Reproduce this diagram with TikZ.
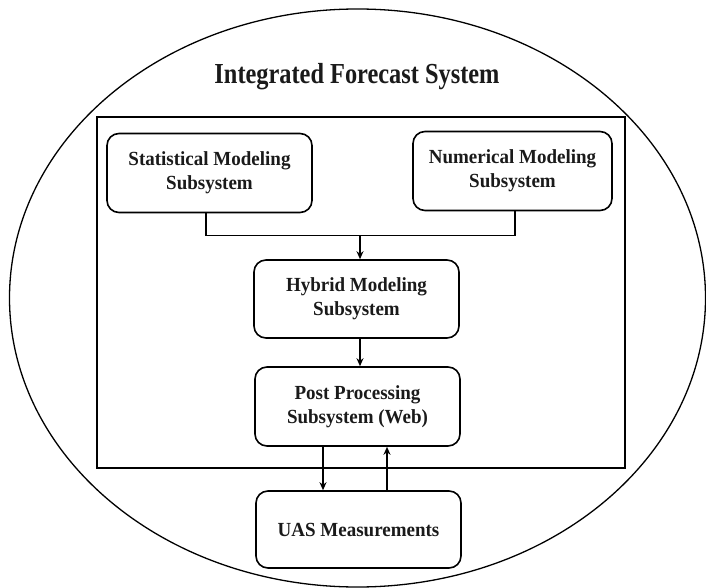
\documentclass[tikz,border=0pt]{standalone}
\usepackage{fontspec}
\setmainfont{Liberation Serif}
\newfontfamily\titlefont[FakeStretch=0.84]{Liberation Serif}
\newfontfamily\boxfont[FakeStretch=0.95]{Liberation Serif}
\usetikzlibrary{arrows.meta}
\definecolor{ink}{HTML}{1A1A1A}
\begin{document}
\begin{tikzpicture}[x=1pt,y=-1pt,
  box/.style={draw, line width=1.6pt, rounded corners=12pt, align=center, inner sep=0pt,
    minimum width=205pt, minimum height=79pt, text=ink, font=\boxfont\fontsize{20}{24}\selectfont\bfseries},
  frame/.style={draw, line width=1.6pt, inner sep=0pt, minimum width=528pt, minimum height=351pt},
  arr/.style={line width=1.5pt, -{Stealth[length=8pt,width=7pt]}},
  conn/.style={line width=1.5pt}]
\useasboundingbox (0,0) rectangle (706,588);
\fill[white] (0,0) rectangle (706,588);
\draw[line width=1.3pt] (357.5,298) ellipse [x radius=348, y radius=289];
\node[anchor=base, text=ink, font=\titlefont\fontsize{29}{32}\selectfont\bfseries] (title) at (357,84) {Integrated Forecast System};
\node[frame] (sys) at (361,292.5) {};
\node[box] (stat) at (209.5,173) {Statistical Modeling\\Subsystem};
\node[box, minimum width=199pt] (num) at (512.5,171) {Numerical Modeling\\Subsystem};
\node[box, minimum height=78pt] (hyb) at (356.5,299) {Hybrid Modeling\\Subsystem};
\node[box] (post) at (357.5,406.5) {Post Processing\\Subsystem (Web)};
\node[box, minimum height=77pt] (uas) at (358.5,529.5) {UAS Measurements};
\coordinate (j) at (360,235.5);
\draw[conn] ([xshift=-3.5pt]stat.south) |- (j) -| ([xshift=2.5pt]num.south);
\draw[arr] (j) -- (j |- hyb.north);
\draw[arr] ([xshift=3.5pt]hyb.south) -- ([xshift=3.5pt]hyb.south |- post.north);
\draw[arr] ([xshift=-34.5pt]post.south) -- ([xshift=-34.5pt]post.south |- uas.north);
\draw[arr] ([xshift=29.5pt]post.south |- uas.north) -- ([xshift=29.5pt]post.south);
\end{tikzpicture}
\end{document}
